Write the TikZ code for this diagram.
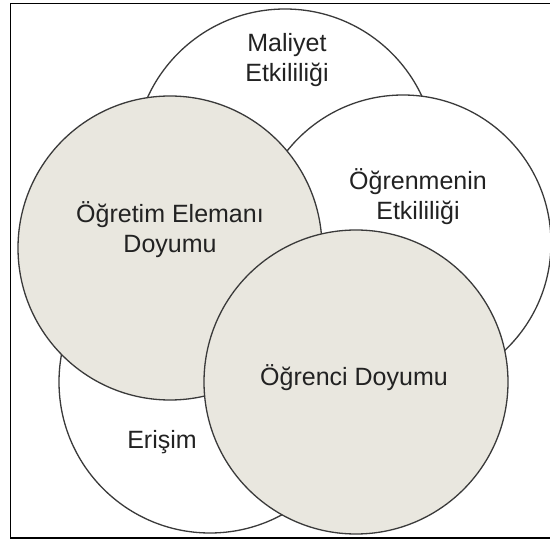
\documentclass[tikz,border=0pt]{standalone}
\usepackage{fontspec}
\setmainfont{Liberation Sans}
\definecolor{fillgray}{HTML}{E9E7DF}
\definecolor{edgegray}{HTML}{3A3A3A}
\definecolor{txt}{HTML}{222222}
\begin{document}
\begin{tikzpicture}[x=1pt,y=-1pt,
  circ/.style={circle, draw=edgegray, line width=1.3pt, inner sep=0pt},
  whitec/.style={circ, fill=white},
  grayc/.style={circ, fill=fillgray},
  lbl/.style={text=txt, align=center, inner sep=0pt,
    font=\fontsize{25}{30}\selectfont}]
\useasboundingbox (0,0) rectangle (550,540);
\fill[white] (0,0) rectangle (550,540);
\draw[black, line width=1.4pt] (10.5,3.5) rectangle (560,538);
% circles (back to front)
\node[whitec, minimum size=302pt] (maliyet) at (285,160) {};
\node[whitec, minimum size=296pt] (ogrenmenin) at (403,243) {};
\node[whitec, minimum size=302pt] (erisim) at (210,382) {};
\node[grayc, minimum size=304pt] (ogretim) at (170,248) {};
\node[grayc, minimum size=304pt] (ogrenci) at (356,382) {};
% labels
\node[lbl] (tmaliyet) at (287,60) {Maliyet\\Etkililiği};
\node[lbl] (togrenmenin) at (418,197) {Öğrenmenin\\Etkililiği};
\node[lbl] (togretim) at (170,230) {Öğretim Elemanı\\Doyumu};
\node[lbl] (togrenci) at (354,378) {Öğrenci Doyumu};
\node[lbl] (terisim) at (162,442) {Erişim};
\end{tikzpicture}
\end{document}
